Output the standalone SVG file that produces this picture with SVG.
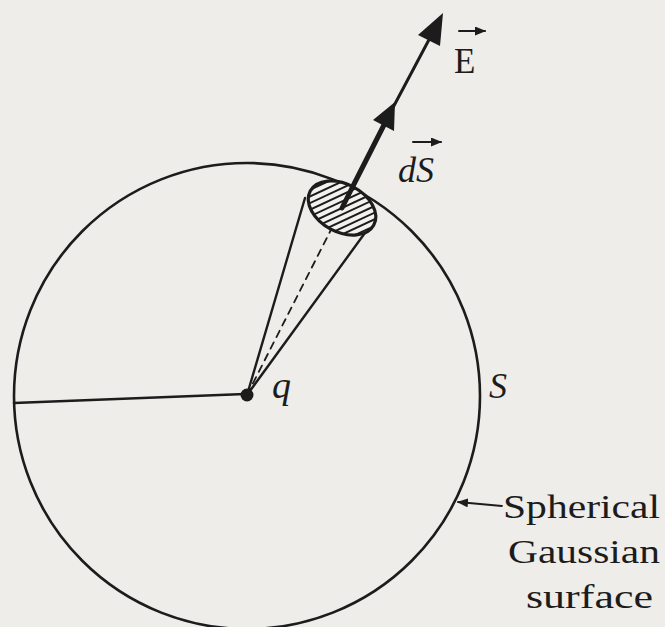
<svg xmlns="http://www.w3.org/2000/svg" width="665" height="627" viewBox="0 0 665 627">
<style>
.ln{stroke:#1c1c1c;fill:none;stroke-linecap:round}
.tx{font-family:"Liberation Serif","DejaVu Serif",serif;fill:#1c1c1c}
.it{font-style:italic}
.h{stroke:#1c1c1c;stroke-width:2}
</style>
<defs>
<clipPath id="ec">
<ellipse cx="342" cy="208" rx="36" ry="24" transform="rotate(28 342 208)"/>
</clipPath>
<marker id="sm" markerWidth="11" markerHeight="9" refX="10" refY="4.5" orient="auto" markerUnits="userSpaceOnUse">
<path d="M0,0 L11,4.5 L0,9 Z" fill="#1c1c1c"/>
</marker>
</defs>
<rect width="665" height="627" fill="#eeede9"/>
<g id="sphere">
<circle class="ln" cx="247" cy="396" r="233" stroke-width="2.6"/>
</g>
<g id="connectors">
<line class="ln" x1="14" y1="403" x2="245" y2="394" stroke-width="2.6"/>
<line class="ln" x1="247" y1="395" x2="305" y2="198" stroke-width="2.4"/>
<line class="ln" x1="247" y1="395" x2="370" y2="226" stroke-width="2.4"/>
<line class="ln" x1="247" y1="395" x2="340" y2="212" stroke-width="1.8" stroke-dasharray="7,6" stroke-linecap="butt"/>
<line class="ln" x1="352" y1="188" x2="386" y2="121" stroke-width="5"/>
<line class="ln" x1="388" y1="117" x2="432" y2="34" stroke-width="3"/>
<path d="M395,102 L394,131 L373,120 Z" fill="#1c1c1c"/>
<path d="M443,13 L440,46 L418,35 Z" fill="#1c1c1c"/>
<line class="ln" x1="502" y1="506" x2="458" y2="502" stroke-width="1.8" marker-end="url(#sm)"/>
</g>
<g id="area-element">
<ellipse cx="342" cy="208" rx="36" ry="24" transform="rotate(28 342 208)" fill="#f2f1ee"/>
<g clip-path="url(#ec)">
<g transform="rotate(-25 342 208)">
<line class="h" x1="290" y1="178" x2="394" y2="178"/>
<line class="h" x1="290" y1="184" x2="394" y2="184"/>
<line class="h" x1="290" y1="190" x2="394" y2="190"/>
<line class="h" x1="290" y1="196" x2="394" y2="196"/>
<line class="h" x1="290" y1="202" x2="394" y2="202"/>
<line class="h" x1="290" y1="208" x2="394" y2="208"/>
<line class="h" x1="290" y1="214" x2="394" y2="214"/>
<line class="h" x1="290" y1="220" x2="394" y2="220"/>
<line class="h" x1="290" y1="226" x2="394" y2="226"/>
<line class="h" x1="290" y1="232" x2="394" y2="232"/>
<line class="h" x1="290" y1="238" x2="394" y2="238"/>
</g>
</g>
<ellipse cx="342" cy="208" rx="36" ry="24" transform="rotate(28 342 208)" fill="none" stroke="#1c1c1c" stroke-width="3.2"/>
<line class="ln" x1="342" y1="208" x2="352" y2="188" stroke-width="5"/>
</g>
<g id="charge">
<circle cx="247" cy="395" r="6.5" fill="#1c1c1c"/>
<text class="tx it" x="272" y="398" font-size="38">q</text>
</g>
<g id="labels">
<text class="tx" x="454" y="73" font-size="35">E</text>
<line class="ln" x1="459" y1="31" x2="485" y2="31" stroke-width="2" marker-end="url(#sm)"/>
<text class="tx it" x="398" y="182" font-size="36">dS</text>
<line class="ln" x1="413" y1="142" x2="441" y2="142" stroke-width="2" marker-end="url(#sm)"/>
<text class="tx it" x="489" y="398" font-size="36">S</text>
<text class="tx" x="503" y="518" font-size="34" textLength="157" lengthAdjust="spacingAndGlyphs">Spherical</text>
<text class="tx" x="508" y="563" font-size="34" textLength="152" lengthAdjust="spacingAndGlyphs">Gaussian</text>
<text class="tx" x="526" y="608" font-size="34" textLength="127" lengthAdjust="spacingAndGlyphs">surface</text>
</g>
</svg>
